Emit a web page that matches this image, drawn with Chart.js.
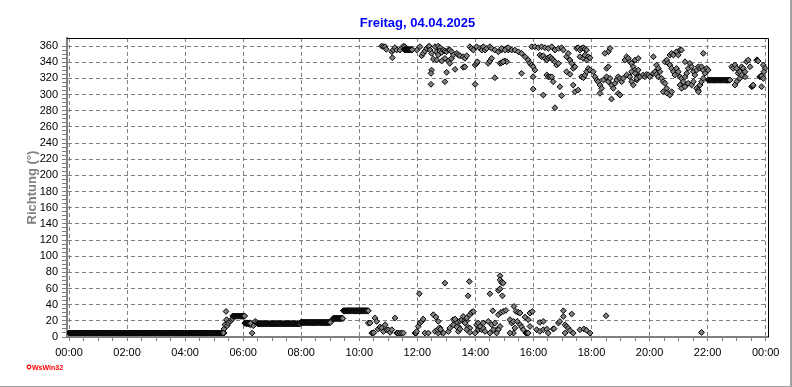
<!DOCTYPE html>
<html><head><meta charset="utf-8">
<script src="https://cdn.jsdelivr.net/npm/chart.js@4/dist/chart.umd.min.js"></script>
<style>html,body{margin:0;padding:0;background:#fff;overflow:hidden}canvas{display:block}</style>
</head><body>
<canvas id="c" width="792" height="387"></canvas>
<script>
const chartTitle = 'Freitag, 04.04.2025';
const yAxisTitle = 'Richtung (°)';
const logoText = 'WsWin32';
const xTickHours = [0, 2, 4, 6, 8, 10, 12, 14, 16, 18, 20, 22, 24];
const xTickLabels = ['00:00','02:00','04:00','06:00','08:00','10:00','12:00','14:00','16:00','18:00','20:00','22:00','00:00'];
const yTickValues = [0,20,40,60,80,100,120,140,160,180,200,220,240,260,280,300,320,340,360];

// steady periods (same reading repeated every minute): from hour, to hour, direction
const steadyFrom = [0,    5.64, 6.06, 6.50, 7.98, 9.10, 9.45, 11.55, 22.02];
const steadyTo   = [5.32, 6.05, 6.25, 7.96, 9.00, 9.43, 10.31, 11.82, 22.77];
const steadyDeg  = [5,    26,   17,   16.4, 18,   23,   32.5, 355.5, 318];

// scattered readings near north-east [hour, degrees]
const lowScatter = [
[5.34,4.9],[5.34,9.9],[5.37,15.2],[5.41,31.6],[5.43,21.4],[5.45,14],[5.49,17.3],[5.55,19.3],[5.6,21.4],[5.64,22.6],
[6.06,17.3],[6.12,16.4],[6.18,16.4],[6.25,15],[6.31,4.9],[6.35,14],[6.41,19.3],[6.47,18],
[9.02,19.3],[9.07,21.4],
[10.31,17.3],[10.37,17.3],[10.43,4.9],[10.48,4.9],[10.5,5.5],[10.54,23.5],[10.6,19.3],[10.65,9.9],[10.71,12.4],[10.77,11.1],[10.83,6.9],[10.89,15.2],[10.94,9],[11.0,9],[11.06,5.7],[11.12,9],[11.23,23.5],[11.29,4.9],[11.33,4.9],[11.4,4.9],[11.46,4.9],[11.52,4.9],
[11.92,4.9],[11.95,4.9],[11.98,6.9],[12.03,13.1],[12.07,53.5],[12.09,17.3],[12.15,19.3],[12.2,22.2],[12.26,4.9],[12.38,4.9],[12.55,27.6],[12.64,24.7],[12.72,19.3],[12.61,6.9],[12.78,11.1],[12.84,5.7],[12.72,4.9],[12.9,4.9],[12.95,66.7],
[12.7,9],[12.75,11],[12.8,9.5],[13.3,15],[13.36,18],[13.41,13],[13.47,20],[13.53,21.4],[13.64,20.5],[13.7,20],[13.75,12],[13.81,11],[14.04,15],[14.1,9],[14.16,12],[14.22,9],[14.27,11],
[13.07,6.9],[13.12,11.1],[13.24,15.2],[13.24,21.4],[13.3,22.2],[13.36,12.4],[13.41,6.9],[13.47,9.9],[13.58,25.5],[13.64,17.3],[13.7,23.5],[13.75,51],[13.79,68.7],[13.81,27.6],[13.87,30.4],[13.93,31.6],[13.81,5.7],[13.7,9],[13.99,4.9],[14.1,17.3],[14.16,13.1],[14.27,17.3],[14.33,6.9],
[14.5,53.5],[14.6,32.5],[14.44,19.3],[14.56,15.2],[14.67,17.3],[14.73,9],[14.62,9],[14.5,4.9],[14.85,75.8],[14.85,70.8],[14.9,67.5],[14.79,57.6],[14.85,59.7],[14.96,66.7],[14.93,51],[14.79,27.6],[14.88,30.4],[14.96,31.6],[15.05,32.9],[14.85,13.1],[14.79,9],[14.73,4.9],
[15.19,21.4],[15.25,17.3],[15.31,19.3],[15.36,11.1],[15.31,4.9],[15.19,4.9],[15.33,37.8],[15.4,31.6],[15.48,30.4],[15.54,29.7],[15.44,19.3],[15.54,15.2],[15.59,12.4],[15.65,9],[15.74,4.9],[15.71,24.7],[15.82,21.4],[15.88,13.1],[15.88,29.7],[15.96,31.6],[15.78,4.9],[15.8,4.9],[15.82,4.9],
[16.11,9],[16.22,6.9],[16.34,9],[16.46,9.9],[16.51,4.9],[16.22,18],[16.34,19.3],[16.68,9.9],[16.71,10.3],[16.86,17.3],[16.91,19.3],[17.03,32.5],[17.03,25.5],[17.09,4.9],[17.09,15.2],[17.14,13.1],[17.2,11],[17.26,8],[17.32,28.4],[17.37,4.9],[17.6,9],[17.74,9.9],[17.83,8.2],[17.95,4.9],
[18.5,26.3],[21.79,5.7]
];

// scattered readings near north-west [hour, degrees]
const highScatter = [
[10.77,360],[10.83,359.2],[10.89,359.2],[10.93,356],[11.12,353],[11.14,345.6],[11.17,355.1],[11.23,358],[11.29,355.1],[11.4,355.1],[11.52,360],[11.57,359.2],[11.63,357.2],[11.69,355.1],[11.75,355.1],[11.8,355.1],
[11.98,355.1],[12.09,359.2],[12.15,348],[12.2,351],[12.26,353.8],[12.32,357.2],[12.38,359.2],[12.41,360],[12.44,355.1],[12.49,351],[12.55,344],[12.61,359.2],[12.72,360],[12.78,358],[12.67,353],[12.72,349],[12.78,353.8],[12.84,352.2],[12.9,355.1],[12.95,353.8],[13.01,353],[13.07,355.1],[13.12,355.1],[13.18,353],
[12.67,342.7],[12.84,341.5],[12.95,344.8],[13.07,341.5],[13.12,338.6],[13.18,344.8],[13.24,349],[13.36,351],[13.41,349],[13.47,348],[13.58,346.8],[13.64,344.8],[13.7,348],
[12.49,330.3],[12.47,326.3],[12.47,312.7],[12.95,315.9],[13.01,327.5],[13.3,331.2],[13.58,333.7],[13.64,334.4],
[13.81,359.2],[13.87,357.2],[13.93,355.1],[14.04,359.2],[14.16,357.2],[14.22,355.1],[14.27,359.2],[14.33,355.1],[14.39,357.2],[14.5,359.2],[14.56,357.2],[14.67,355.1],[14.79,353],[14.9,355.1],[15.08,357.2],[15.13,355.1],
[13.99,336.5],[14.04,338.6],[14.07,340.6],[13.99,312.7],[14.44,338.6],[14.5,341.5],[14.56,344.8],[14.67,320.8],[14.85,338.6],[14.9,339.4],[14.96,340.6],[15.02,341.5],
[14.9,357.2],[15.02,355.1],[15.13,358],[15.25,355.1],[15.36,355.1],[15.48,353],[15.59,351],[15.71,346.8],[15.08,340.6],[14.96,340.6],[15.59,326.3],
[15.82,342.7],[15.88,338.6],[15.94,336.5],[15.99,334.4],[16.05,330.3],[15.99,322],[15.99,306.8],
[15.94,359.2],[16.05,359.2],[16.17,358],[16.28,359.2],[16.4,358],[16.51,357.2],[16.63,359.2],[16.74,355.1],[16.86,357.2],[16.97,358],[17.03,355.1],
[16.22,348.9],[16.28,346.8],[16.34,348],[16.4,344.8],[16.46,342.7],[16.51,345.5],[16.57,346.8],[16.63,344.8],[16.68,342.7],[16.74,340.6],[16.8,336.5],[16.86,338.6],
[16.34,299.4],[16.74,283.7],[16.46,324.2],[16.51,322],[16.57,322],[16.63,322],[16.68,315.9],[16.91,309.7],[16.97,298.6],
[17.14,346.8],[17.2,351],[17.26,342.7],[17.32,338.6],[17.14,328.3],[17.26,325],[17.37,332.4],[17.43,334.4],[17.37,311.8],[17.43,303.5],[17.54,305.6],
[17.49,357.2],[17.54,358],[17.6,355.1],[17.66,357.2],[17.72,358],[17.77,356.3],[17.83,355.1],
[17.6,346.8],[17.72,344.8],[17.77,348.9],[17.83,342.7],[17.89,346.8],[17.95,345.5],
[17.66,322],[17.72,320.8],[17.77,324.2],[17.83,328.3],[17.89,332.4],[17.95,330.3],[18.06,328.3],[18.12,322],[18.18,318],[18.23,315.9],[18.29,311.8],[18.35,307.7],[18.29,301.5],
[18.41,318],[18.52,322],[18.58,315.9],[18.64,320],[18.69,311.8],[18.75,307.7],[18.81,313.9],[18.87,318],[18.92,322],[18.98,320],[19.04,315.9],
[18.52,332.4],[18.58,334.4],[18.58,353],[18.64,357.2],[18.46,351],[18.69,294.5],[18.92,301.5],[18.98,299.4],
[19.15,342.7],[19.21,346.8],[19.27,344.8],[19.32,340.6],[19.38,338.6],[19.44,334.4],[19.5,330.3],[19.56,326.3],[19.61,330.3],
[19.09,320],[19.21,324.2],[19.32,322],[19.38,315.9],[19.44,311.8],[19.56,318],[19.61,322],
[19.5,342.7],[19.61,344.8],[19.38,328.3],[19.5,326.3],[19.56,320],[19.67,322],[19.78,324.2],[19.84,322],[19.9,325],[19.96,324.2],[20.01,322],[20.13,326.3],[20.19,328.3],[20.24,325],[20.3,322],
[20.13,346.8],[20.24,336.5],[20.3,332.4],[20.36,328.3],[20.42,320],[20.47,315.9],[20.53,313.9],[20.59,307.7],[20.64,301.5],[20.7,299.4],[20.76,303.5],[20.47,303.5],[20.59,302],
[20.53,340.6],[20.59,342.7],[20.64,338.6],[20.7,336.5],[20.7,348.9],[20.76,351],[20.82,348.9],[20.93,353],[20.99,348.9],[21.05,355.1],[21.1,355.1],
[20.76,332.4],[20.82,328.3],[20.87,324.2],[20.93,332.4],[20.99,328.3],[21.05,322],[21.1,320],[21.16,315.9],[21.22,322],[21.28,326.3],[21.33,332.4],[21.39,338.6],[21.45,334.4],[21.51,328.3],[21.56,324.2],[21.62,330.3],[21.68,334.4],[21.74,332.4],[21.79,334.4],[21.85,330.3],[21.91,326.3],[21.97,332.4],[22.02,330.3],
[21.22,340.6],[21.05,311.8],[21.1,307.7],[21.22,309.7],[21.33,313.9],[21.45,311.8],[21.51,315.9],[21.62,307.7],[21.68,305.6],[21.74,311.8],[21.79,315.9],[21.85,320],[21.85,351],[21.68,303.5],
[22.83,334.4],[22.88,332.4],[22.94,336.5],[23.0,332.4],[23.05,326.3],[23.11,328.3],[23.17,334.4],[23.23,332.4],[23.29,328.3],[23.34,340.6],[23.4,342.7],[23.46,334.4],[23.29,322],[23.0,315.9],[22.94,311.8],[23.11,320],[23.17,324.2],
[23.69,342.7],[23.71,342.7],[23.72,342],[23.74,341.5],[23.8,322],[23.82,322.5],[23.84,323],[23.86,323],[23.52,309.7],[23.54,310.5],[23.56,311],[23.57,311.8],
[23.92,336.5],[23.98,332.4],[23.94,328.3],[23.92,320],[23.86,309.7]
];

// --- build chart data from the arrays ---
const steadyPoints = [];
steadyFrom.forEach((from, i) => {
  for (let t = from; t < steadyTo[i]; t += 1 / 60) steadyPoints.push({x: t, y: steadyDeg[i]});
  steadyPoints.push({x: steadyTo[i], y: steadyDeg[i]});
});
const toXY = arr => arr.map(p => ({x: p[0], y: p[1]}));

const xMinorTicks = [];
for (let i = 0; i < xTickHours.length - 1; i++) for (let k = 0; k < 4; k++) xMinorTicks.push(xTickHours[i] + k * (xTickHours[i+1] - xTickHours[i]) / 4);
xMinorTicks.push(xTickHours[xTickHours.length - 1]);
const yMinorTicks = [];
for (let i = 0; i < yTickValues.length - 1; i++) for (let k = 0; k < 4; k++) yMinorTicks.push(yTickValues[i] + k * (yTickValues[i+1] - yTickValues[i]) / 4);
yMinorTicks.push(yTickValues[yTickValues.length - 1]);

const FONT = '"Liberation Sans", Arial, sans-serif';
const pointStyle = {
  pointStyle: 'rectRot', pointRadius: 2.9, pointHoverRadius: 2.9,
  pointBackgroundColor: '#808080', pointBorderColor: '#000000', pointBorderWidth: 1,
  showLine: false
};

const framePlugin = {
  id: 'frame',
  beforeDatasetsDraw(chart) {
    const {ctx, chartArea: a} = chart;
    ctx.save();
    ctx.strokeStyle = '#000';
    ctx.lineWidth = 1;
    ctx.beginPath();
    ctx.moveTo(a.left, Math.round(a.top) + 0.5);
    ctx.lineTo(Math.round(a.right) + 0.5, Math.round(a.top) + 0.5);
    ctx.lineTo(Math.round(a.right) + 0.5, a.bottom);
    ctx.stroke();
    ctx.restore();
  },
  afterDraw(chart) {
    const ctx = chart.ctx;
    ctx.save();
    ctx.fillStyle = '#a0a0a0';
    ctx.fillRect(chart.width - 2, 0, 2, chart.height);
    ctx.fillRect(0, chart.height - 1, chart.width, 1);
    ctx.strokeStyle = '#ff0000';
    ctx.lineWidth = 1.2;
    ctx.beginPath(); ctx.arc(29, 367, 1.8, 0, Math.PI * 2); ctx.stroke();
    ctx.fillStyle = '#ff0000';
    ctx.font = 'bold 7px ' + FONT;
    ctx.textBaseline = 'alphabetic';
    ctx.fillText(logoText, 32, 370);
    ctx.restore();
  }
};

new Chart(document.getElementById('c'), {
  type: 'scatter',
  data: {
    datasets: [
      Object.assign({label: 'steady', data: steadyPoints}, pointStyle),
      Object.assign({label: 'low', data: toXY(lowScatter)}, pointStyle),
      Object.assign({label: 'high', data: toXY(highScatter)}, pointStyle)
    ]
  },
  options: {
    responsive: false,
    animation: false,
    devicePixelRatio: 1,
    layout: {padding: {left: 0, right: 24, top: 0, bottom: 0}, autoPadding: false},
    plugins: {
      legend: {display: false},
      tooltip: {enabled: false},
      title: {
        display: true, text: chartTitle, color: '#0000ff', fullSize: false,
        font: {family: FONT, size: 13, weight: 'bold'},
        padding: {top: 16, bottom: 6.4}
      }
    },
    scales: {
      x: {
        type: 'linear', min: -0.069, max: 24.08,
        afterFit: s => { s.height = 50; },
        afterBuildTicks: s => { s.ticks = xMinorTicks.map(v => ({value: v})); },
        ticks: {
          autoSkip: false, maxRotation: 0, padding: 5, color: '#000',
          font: {family: FONT, size: 11},
          callback: v => { const i = xTickHours.indexOf(v); return i >= 0 ? xTickLabels[i] : ''; }
        },
        grid: {
          color: c => (c.tick && xTickHours.includes(c.tick.value)) ? '#808080' : 'rgba(0,0,0,0)',
          tickColor: '#808080', tickLength: 4, tickBorderDash: [], lineWidth: 1
        },
        border: {display: true, color: '#808080', width: 2, dash: [4, 3]}
      },
      y: {
        type: 'linear', min: 0, max: 370,
        afterFit: s => { s.width = 67; },
        afterBuildTicks: s => { s.ticks = yMinorTicks.map(v => ({value: v})); },
        ticks: {
          autoSkip: false, padding: 4, color: '#000',
          font: {family: FONT, size: 11},
          callback: v => yTickValues.includes(v) ? String(v) : ''
        },
        grid: {
          color: c => (c.tick && yTickValues.includes(c.tick.value)) ? '#808080' : 'rgba(0,0,0,0)',
          tickColor: '#808080', tickLength: 5, tickBorderDash: [], lineWidth: 1
        },
        border: {display: true, color: '#808080', width: 2, dash: [4, 3]},
        title: {
          display: true, text: yAxisTitle, color: '#808080',
          font: {family: FONT, size: 13, weight: 'bold'},
          padding: {top: 25, bottom: 0}
        }
      }
    }
  },
  plugins: [framePlugin]
});
</script>
</body></html>
